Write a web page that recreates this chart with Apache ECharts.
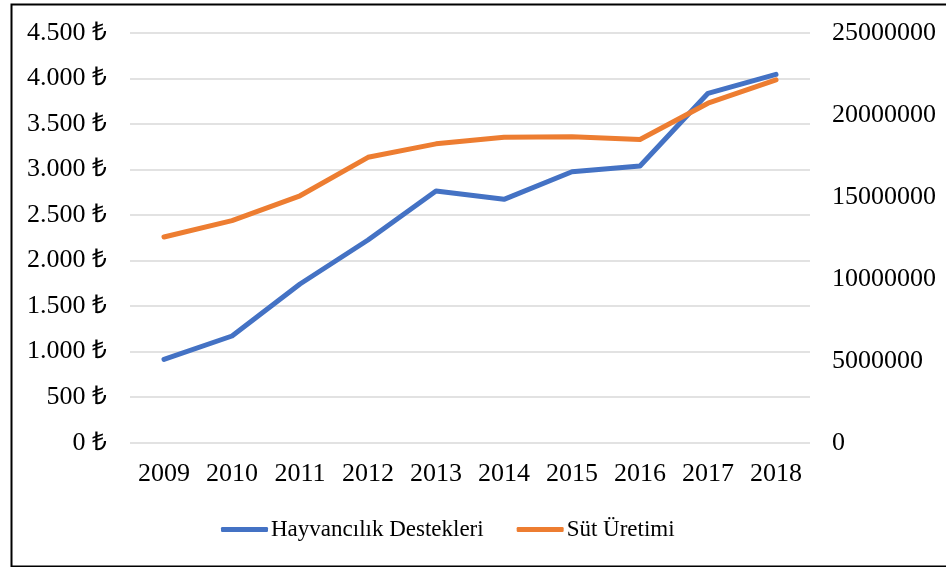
<!DOCTYPE html>
<html>
<head>
<meta charset="utf-8">
<script src="https://cdn.jsdelivr.net/npm/echarts@6/dist/echarts.min.js"></script>
<style>
html,body{margin:0;padding:0;background:#fff;}
#chart{width:946px;height:567px;}
</style>
</head>
<body>
<div id="chart"></div>
<script>
const categories = ['2009','2010','2011','2012','2013','2014','2015','2016','2017','2018'];
const hayvancilikDestekleri = [915, 1171, 1742, 2225, 2763, 2671, 2974, 3037, 3835, 4043];
const sutUretimi = [12542877, 13543674, 15056211, 17401262, 18223712, 18630859, 18654682, 18489161, 20699894, 22120587];
const leftTicks = { min: 0, max: 4500, interval: 500 };
const rightTicks = { min: 0, max: 25000000, interval: 5000000 };

const FONT = "'Liberation Serif', 'Times New Roman', serif";
const chart = echarts.init(document.getElementById('chart'), null, { renderer: 'canvas' });
chart.setOption({
  backgroundColor: '#fff',
  animation: false,
  textStyle: { fontFamily: FONT },
  graphic: [{
    type: 'rect', left: 9, top: 2, z: -10,
    shape: { width: 945, height: 562 },
    style: { fill: 'none', stroke: '#000', lineWidth: 2 }
  }],
  grid: { left: 130, right: 136, top: 32.7, bottom: 124.3, containLabel: false },
  legend: {
    left: 216, top: 513,
    itemGap: 33,
    icon: 'roundRect', itemWidth: 47, itemHeight: 5,
    textStyle: { fontFamily: FONT, fontSize: 23, color: '#000', padding: [0, 0, 0, -2] },
    data: ['Hayvancılık Destekleri', 'Süt Üretimi']
  },
  xAxis: {
    type: 'category', data: categories, boundaryGap: true,
    axisLine: { show: false }, axisTick: { show: false },
    axisLabel: { fontFamily: FONT, fontSize: 26, color: '#000', margin: 18 }
  },
  yAxis: [{
    type: 'value', min: leftTicks.min, max: leftTicks.max, interval: leftTicks.interval,
    axisLine: { show: false }, axisTick: { show: false },
    splitLine: { lineStyle: { color: '#D9D9D9', width: 1.5 } },
    axisLabel: {
      fontFamily: FONT, fontSize: 26, color: '#000', margin: 23,
      formatter: v => v.toLocaleString('de-DE') + ' ₺'
    }
  }, {
    type: 'value', min: rightTicks.min, max: rightTicks.max, interval: rightTicks.interval,
    axisLine: { show: false }, axisTick: { show: false }, splitLine: { show: false },
    axisLabel: { fontFamily: FONT, fontSize: 26, color: '#000', margin: 22, formatter: v => String(v) }
  }],
  series: [{
    name: 'Hayvancılık Destekleri', type: 'line', yAxisIndex: 0, data: hayvancilikDestekleri,
    showSymbol: false, symbol: 'none', color: '#4472C4',
    lineStyle: { width: 5, color: '#4472C4', cap: 'round', join: 'round' }
  }, {
    name: 'Süt Üretimi', type: 'line', yAxisIndex: 1, data: sutUretimi,
    showSymbol: false, symbol: 'none', color: '#ED7D31',
    lineStyle: { width: 5, color: '#ED7D31', cap: 'round', join: 'round' }
  }]
});
</script>
</body>
</html>
